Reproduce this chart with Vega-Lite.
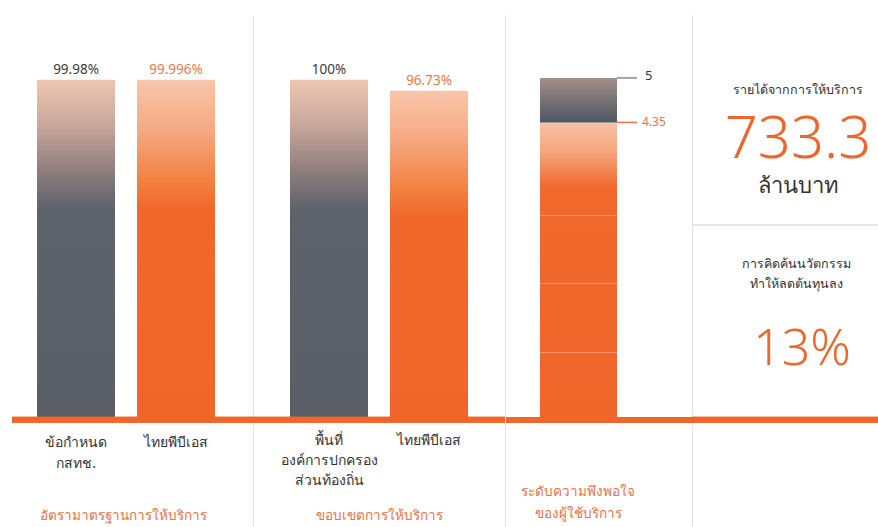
{
  "$schema": "https://vega.github.io/schema/vega-lite/v6.json",
  "padding": {"left": 9, "top": 15, "right": 0, "bottom": 0},
  "background": "white",
  "spacing": 0,
  "bounds": "flush",
  "config": {
    "view": {"stroke": null},
    "font": "Noto Sans",
    "text": {"font": "Noto Sans"}
  },
  "datasets": {
    "bars": [
      {"group": "อัตรามาตรฐานการให้บริการ", "item": "ข้อกำหนด\nกสทช.", "kind": "เกณฑ์", "value": 99.98, "label": "99.98%"},
      {"group": "อัตรามาตรฐานการให้บริการ", "item": "ไทยพีบีเอส", "kind": "ไทยพีบีเอส", "value": 99.996, "label": "99.996%"},
      {"group": "ขอบเขตการให้บริการ", "item": "พื้นที่\nองค์การปกครอง\nส่วนท้องถิ่น", "kind": "เกณฑ์", "value": 100, "label": "100%"},
      {"group": "ขอบเขตการให้บริการ", "item": "ไทยพีบีเอส", "kind": "ไทยพีบีเอส", "value": 96.73, "label": "96.73%"}
    ],
    "satisfaction": [
      {"measure": "ระดับความพึงพอใจ\nของผู้ใช้บริการ", "score": 4.35, "max": 5}
    ],
    "kpis": [
      {"kpi": "revenue", "metric": "รายได้จากการให้บริการ", "value": "733.3", "unit": "ล้านบาท"},
      {"kpi": "cost", "metric": "การคิดค้นนวัตกรรม\nทำให้ลดต้นทุนลง", "value": "13%", "unit": ""}
    ]
  },
  "hconcat": [
    {
      "width": 241,
      "height": 512,
      "data": {"name": "bars"},
      "transform": [{"filter": "datum.group === 'อัตรามาตรฐานการให้บริการ'"}],
      "layer": [
        {
          "transform": [{"filter": "datum.kind === 'เกณฑ์'"}],
          "mark": {"type": "bar", "fill": {"gradient": "linear", "x1": 0, "y1": 0, "x2": 0, "y2": 1, "stops": [
            {"offset": 0, "color": "#efc6b0"}, {"offset": 0.13, "color": "#c9a89c"}, {"offset": 0.27, "color": "#8d7d7d"}, {"offset": 0.38, "color": "#5e636b"}, {"offset": 1, "color": "#5a5f67"}]}},
          "encoding": {
            "x": {"field": "item", "type": "nominal", "sort": null, "axis": null, "scale": {"domain": ["ข้อกำหนด\nกสทช.", "ไทยพีบีเอส"], "paddingInner": 0.22, "paddingOuter": 0.315, "align": 0.397}},
            "y": {"field": "value", "type": "quantitative", "axis": null, "scale": {"domain": [-31.5, 119], "nice": false}}
          }
        },
        {
          "transform": [{"filter": "datum.kind === 'ไทยพีบีเอส'"}],
          "mark": {"type": "bar", "fill": {"gradient": "linear", "x1": 0, "y1": 0, "x2": 0, "y2": 1, "stops": [
            {"offset": 0, "color": "#f8c6aa"}, {"offset": 0.15, "color": "#f6a880"}, {"offset": 0.3, "color": "#f2803f"}, {"offset": 0.38, "color": "#f0682c"}, {"offset": 1, "color": "#f0652a"}]}},
          "encoding": {
            "x": {"field": "item", "type": "nominal", "sort": null},
            "y": {"field": "value", "type": "quantitative"}
          }
        },
        {
          "mark": {"type": "text", "baseline": "bottom", "dy": -3, "fontSize": 13.5},
          "encoding": {
            "x": {"field": "item", "type": "nominal", "sort": null},
            "y": {"field": "value", "type": "quantitative"},
            "text": {"field": "label"},
            "color": {"condition": {"test": "datum.kind === 'เกณฑ์'", "value": "#3a3a3a"}, "value": "#ef7843"}
          }
        },
        {
          "mark": {"type": "text", "baseline": "top", "dy": 16, "fontSize": 14, "lineBreak": "\n", "lineHeight": 21, "color": "#333333"},
          "encoding": {
            "x": {"field": "item", "type": "nominal", "sort": null},
            "y": {"datum": 0, "type": "quantitative"},
            "text": {"field": "item"}
          }
        },
        {
          "transform": [{"aggregate": [{"op": "count", "as": "n"}], "groupby": ["group"]}],
          "mark": {"type": "text", "baseline": "middle", "dy": 96, "dx": -9, "fontSize": 13.5, "color": "#ef7040"},
          "encoding": {
            "y": {"datum": 0, "type": "quantitative"},
            "text": {"field": "group"}
          }
        },
        {
          "mark": {"type": "rule", "color": "#f0652a", "strokeWidth": 6},
          "encoding": {"y": {"datum": 0, "type": "quantitative"}}
        }
      ]
    },
    {
      "width": 252,
      "height": 512,
      "data": {"name": "bars"},
      "transform": [{"filter": "datum.group === 'ขอบเขตการให้บริการ'"}],
      "layer": [
        {
          "transform": [{"filter": "datum.kind === 'เกณฑ์'"}],
          "mark": {"type": "bar", "fill": {"gradient": "linear", "x1": 0, "y1": 0, "x2": 0, "y2": 1, "stops": [
            {"offset": 0, "color": "#efc6b0"}, {"offset": 0.13, "color": "#c9a89c"}, {"offset": 0.27, "color": "#8d7d7d"}, {"offset": 0.38, "color": "#5e636b"}, {"offset": 1, "color": "#5a5f67"}]}},
          "encoding": {
            "x": {"field": "item", "type": "nominal", "sort": null, "axis": null, "scale": {"paddingInner": 0.22, "paddingOuter": 0.37, "align": 0.5}},
            "y": {"field": "value", "type": "quantitative", "scale": {"domain": [-31.5, 119], "nice": false}, "axis": {"labels": false, "ticks": false, "title": null, "grid": false, "domainColor": "#e3e3e3", "domainWidth": 1}}
          }
        },
        {
          "transform": [{"filter": "datum.kind === 'ไทยพีบีเอส'"}],
          "mark": {"type": "bar", "fill": {"gradient": "linear", "x1": 0, "y1": 0, "x2": 0, "y2": 1, "stops": [
            {"offset": 0, "color": "#f8c6aa"}, {"offset": 0.15, "color": "#f6a880"}, {"offset": 0.3, "color": "#f2803f"}, {"offset": 0.38, "color": "#f0682c"}, {"offset": 1, "color": "#f0652a"}]}},
          "encoding": {
            "x": {"field": "item", "type": "nominal", "sort": null},
            "y": {"field": "value", "type": "quantitative"}
          }
        },
        {
          "mark": {"type": "text", "baseline": "bottom", "dy": -3, "fontSize": 13.5},
          "encoding": {
            "x": {"field": "item", "type": "nominal", "sort": null},
            "y": {"field": "value", "type": "quantitative"},
            "text": {"field": "label"},
            "color": {"condition": {"test": "datum.kind === 'เกณฑ์'", "value": "#3a3a3a"}, "value": "#ef7843"}
          }
        },
        {
          "mark": {"type": "text", "baseline": "top", "dy": 14, "fontSize": 14, "lineBreak": "\n", "lineHeight": 20, "color": "#333333"},
          "encoding": {
            "x": {"field": "item", "type": "nominal", "sort": null},
            "y": {"datum": 0, "type": "quantitative"},
            "text": {"field": "item"}
          }
        },
        {
          "transform": [{"aggregate": [{"op": "count", "as": "n"}], "groupby": ["group"]}],
          "mark": {"type": "text", "baseline": "middle", "dy": 96, "dx": 0, "fontSize": 13.5, "color": "#ef7040"},
          "encoding": {
            "y": {"datum": 0, "type": "quantitative"},
            "text": {"field": "group"}
          }
        },
        {
          "mark": {"type": "rule", "color": "#f0652a", "strokeWidth": 6},
          "encoding": {"y": {"datum": 0, "type": "quantitative"}}
        }
      ]
    },
    {
      "width": 187,
      "height": 512,
      "data": {"name": "satisfaction"},
      "layer": [
        {
          "mark": {"type": "bar", "fill": {"gradient": "linear", "x1": 0, "y1": 0, "x2": 0, "y2": 1, "stops": [
            {"offset": 0, "color": "#f8c3a5"}, {"offset": 0.1, "color": "#f5a47c"}, {"offset": 0.22, "color": "#f0692d"}, {"offset": 1, "color": "#f0652a"}]}},
          "encoding": {
            "x": {"field": "measure", "type": "nominal", "axis": null, "scale": {"paddingInner": 0, "paddingOuter": 0.714, "align": 0.318}},
            "y": {"field": "score", "type": "quantitative", "scale": {"domain": [-1.564, 5.92], "nice": false}, "axis": {"labels": false, "ticks": false, "title": null, "grid": true, "values": [1, 2, 3], "gridColor": "#ffffff", "gridOpacity": 0.3, "gridWidth": 1, "domainColor": "#e3e3e3", "domainWidth": 1, "zindex": 1}}
          }
        },
        {
          "mark": {"type": "bar", "fill": {"gradient": "linear", "x1": 0, "y1": 0, "x2": 0, "y2": 1, "stops": [
            {"offset": 0, "color": "#a28f8a"}, {"offset": 1, "color": "#4e5661"}]}},
          "encoding": {
            "x": {"field": "measure", "type": "nominal"},
            "y": {"field": "max", "type": "quantitative"},
            "y2": {"field": "score"}
          }
        },
        {
          "mark": {"type": "rule", "color": "#8a8a8a", "strokeWidth": 1.5, "x2Offset": 20},
          "encoding": {
            "x": {"field": "measure", "type": "nominal", "bandPosition": 1},
            "x2": {"field": "measure", "bandPosition": 1},
            "y": {"field": "max", "type": "quantitative"}
          }
        },
        {
          "mark": {"type": "rule", "color": "#ef7040", "strokeWidth": 1.5, "x2Offset": 20},
          "encoding": {
            "x": {"field": "measure", "type": "nominal", "bandPosition": 1},
            "x2": {"field": "measure", "bandPosition": 1},
            "y": {"field": "score", "type": "quantitative"}
          }
        },
        {
          "mark": {"type": "text", "align": "left", "baseline": "middle", "dx": 28, "dy": -2, "fontSize": 13, "color": "#333333"},
          "encoding": {
            "x": {"field": "measure", "type": "nominal", "bandPosition": 1},
            "y": {"field": "max", "type": "quantitative"},
            "text": {"field": "max"}
          }
        },
        {
          "mark": {"type": "text", "align": "left", "baseline": "middle", "dx": 25, "fontSize": 12, "color": "#ef7040"},
          "encoding": {
            "x": {"field": "measure", "type": "nominal", "bandPosition": 1},
            "y": {"field": "score", "type": "quantitative"},
            "text": {"field": "score", "format": ".2f"}
          }
        },
        {
          "mark": {"type": "text", "baseline": "top", "dy": 65, "fontSize": 13.5, "lineBreak": "\n", "lineHeight": 22, "color": "#ef7040"},
          "encoding": {
            "x": {"field": "measure", "type": "nominal"},
            "y": {"datum": 0, "type": "quantitative"},
            "text": {"field": "measure"}
          }
        },
        {
          "mark": {"type": "rule", "color": "#f0652a", "strokeWidth": 6},
          "encoding": {"y": {"datum": 0, "type": "quantitative"}}
        }
      ]
    },
    {
      "width": 186,
      "height": 512,
      "data": {"name": "kpis"},
      "layer": [
        {
          "mark": {"type": "rule", "color": "#f0652a", "strokeWidth": 6},
          "encoding": {"y": {"datum": 0, "type": "quantitative", "scale": {"domain": [-31.5, 119], "nice": false}, "axis": {"labels": false, "ticks": false, "title": null, "grid": false, "domainColor": "#e3e3e3", "domainWidth": 1}}}
        },
        {
          "mark": {"type": "rule", "color": "#e3e3e3", "strokeWidth": 1.5},
          "encoding": {"y": {"datum": 57.3, "type": "quantitative"}}
        },
        {
          "transform": [{"filter": "datum.kpi === 'revenue'"}],
          "mark": {"type": "text", "baseline": "middle", "dx": 13, "fontSize": 12.5, "color": "#333333"},
          "encoding": {"y": {"datum": 97, "type": "quantitative"}, "text": {"field": "metric"}}
        },
        {
          "transform": [{"filter": "datum.kpi === 'revenue'"}],
          "mark": {"type": "text", "baseline": "middle", "dx": 13, "fontSize": 58, "fontWeight": 300, "color": "#f0652a"},
          "encoding": {"y": {"datum": 82, "type": "quantitative"}, "text": {"field": "value"}}
        },
        {
          "transform": [{"filter": "datum.kpi === 'revenue'"}],
          "mark": {"type": "text", "baseline": "middle", "dx": 13, "fontSize": 22, "color": "#333333"},
          "encoding": {"y": {"datum": 68.7, "type": "quantitative"}, "text": {"field": "unit"}}
        },
        {
          "transform": [{"filter": "datum.kpi === 'cost'"}],
          "mark": {"type": "text", "baseline": "middle", "dx": 11, "fontSize": 12.5, "lineBreak": "\n", "lineHeight": 20, "color": "#333333"},
          "encoding": {"y": {"datum": 45.9, "type": "quantitative"}, "text": {"field": "metric"}}
        },
        {
          "transform": [{"filter": "datum.kpi === 'cost'"}],
          "mark": {"type": "text", "baseline": "middle", "dx": 17, "fontSize": 50, "fontWeight": 300, "color": "#f0652a"},
          "encoding": {"y": {"datum": 20.5, "type": "quantitative"}, "text": {"field": "value"}}
        }
      ]
    }
  ]
}
